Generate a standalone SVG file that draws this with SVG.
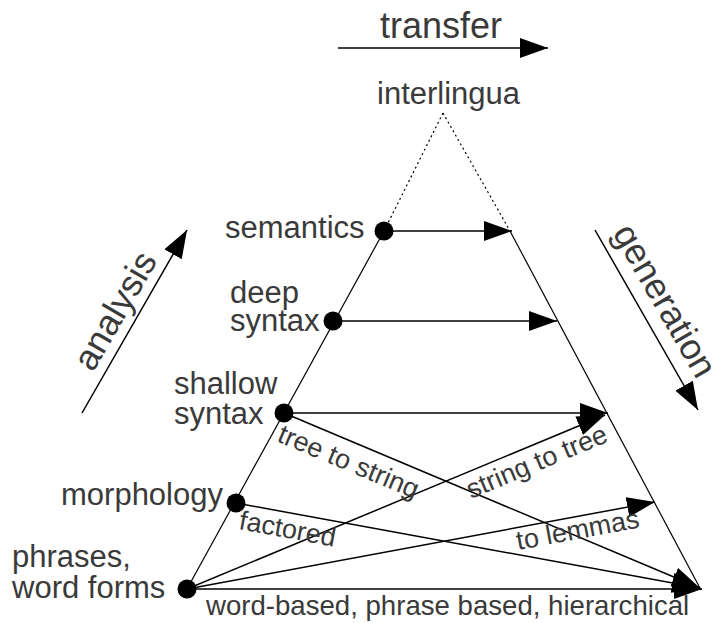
<svg xmlns="http://www.w3.org/2000/svg" width="713" height="623" viewBox="0 0 713 623">
  <style>
    .lbl { font-family: "Liberation Sans", Arial, sans-serif; font-size: 31px; fill: #3a3a3a; }
    .big { font-family: "Liberation Sans", Arial, sans-serif; font-size: 36px; fill: #3a3a3a; }
    .edge { font-family: "Liberation Sans", Arial, sans-serif; font-size: 27px; fill: #3a3a3a; }
    .side { stroke: #000; stroke-width: 1.2; fill: none; }
    .dot-line { stroke: #000; stroke-width: 1.2; fill: none; stroke-dasharray: 2 3; }
    .arrow { stroke: #000; stroke-width: 1.5; fill: none; marker-end: url(#head); }
    .node-dot { fill: #000; }
  </style>
  <defs>
    <marker id="head" markerUnits="userSpaceOnUse" markerWidth="28" markerHeight="20" refX="28" refY="10" orient="auto">
      <path d="M0,0 L28,10 L0,20 z" fill="#000"/>
    </marker>
  </defs>

  <rect width="713" height="623" fill="#fff"/>

  <!-- pyramid outline -->
  <g id="pyramid">
    <line class="dot-line" x1="443" y1="113" x2="384" y2="231"/>
    <line class="dot-line" x1="443" y1="113" x2="510" y2="231"/>
    <line class="side" x1="384" y1="231" x2="187" y2="589"/>
    <line class="side" x1="510" y1="231" x2="701" y2="590"/>
  </g>

  <!-- direction arrows with their captions -->
  <g id="transfer">
    <line class="arrow" x1="338" y1="48" x2="548" y2="48"/>
    <text class="big" x="380" y="38">transfer</text>
  </g>
  <g id="analysis">
    <line class="arrow" x1="82" y1="413" x2="187" y2="230"/>
    <text class="big" transform="translate(93,373) rotate(-60)">analysis</text>
  </g>
  <g id="generation">
    <line class="arrow" x1="595" y1="230" x2="698" y2="410"/>
    <text class="big" transform="translate(612,233) rotate(60)">generation</text>
  </g>

  <!-- connectors between levels -->
  <g id="connectors">
    <line class="arrow" x1="384" y1="231" x2="512" y2="231"/>
    <line class="arrow" x1="333" y1="321" x2="557" y2="321"/>
    <line class="arrow" x1="284" y1="413" x2="608" y2="413"/>
    <line class="arrow" x1="284" y1="413" x2="700" y2="588"/>
    <line class="arrow" x1="187" y1="589" x2="605" y2="415"/>
    <line class="arrow" x1="236" y1="503" x2="700" y2="588"/>
    <line class="arrow" x1="187" y1="589" x2="655" y2="502"/>
    <line class="arrow" x1="187" y1="589" x2="702" y2="589"/>
    <text class="edge" transform="translate(276,441) rotate(22.7)">tree to string</text>
    <text class="edge" transform="translate(471,499) rotate(-22.7)">string to tree</text>
    <text class="edge" transform="translate(238,529) rotate(10.4)">factored</text>
    <text class="edge" transform="translate(518,550) rotate(-10.5)">to lemmas</text>
    <text class="edge" x="206" y="615" style="font-size:27.6px">word-based, phrase based, hierarchical</text>
  </g>

  <!-- levels -->
  <g id="interlingua">
    <text class="lbl" x="377" y="104">interlingua</text>
  </g>
  <g id="semantics">
    <circle class="node-dot" cx="384" cy="231" r="9.5"/>
    <text class="lbl" x="225" y="238">semantics</text>
  </g>
  <g id="deep-syntax">
    <circle class="node-dot" cx="333" cy="321" r="9.5"/>
    <text class="lbl" x="230" y="303">deep</text>
    <text class="lbl" x="230" y="331">syntax</text>
  </g>
  <g id="shallow-syntax">
    <circle class="node-dot" cx="284" cy="413" r="9.5"/>
    <text class="lbl" x="174" y="394">shallow</text>
    <text class="lbl" x="174" y="424">syntax</text>
  </g>
  <g id="morphology">
    <circle class="node-dot" cx="236" cy="503" r="9.5"/>
    <text class="lbl" x="61" y="505">morphology</text>
  </g>
  <g id="word-forms">
    <circle class="node-dot" cx="187" cy="589" r="9.5"/>
    <text class="lbl" x="12" y="567">phrases,</text>
    <text class="lbl" x="12" y="598">word forms</text>
  </g>
</svg>
